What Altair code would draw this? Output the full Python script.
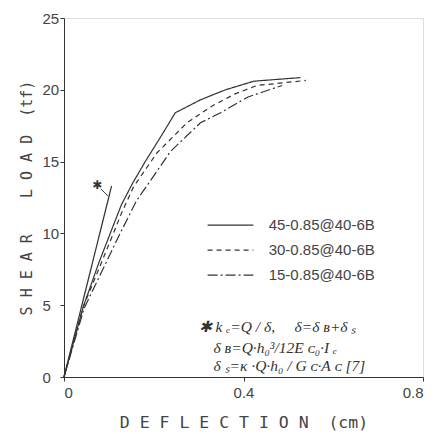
import altair as alt
import pandas as pd

# ---- data ----
series_names = ["45-0.85@40-6B", "30-0.85@40-6B", "15-0.85@40-6B"]

x45 = [0, 0.043, 0.077, 0.103, 0.128, 0.153, 0.181, 0.215, 0.248, 0.304, 0.360, 0.423, 0.527]
y45 = [0, 4.9, 7.9, 10.0, 12.0, 13.5, 15.0, 16.7, 18.4, 19.3, 20.0, 20.6, 20.85]

x30 = [0, 0.043, 0.080, 0.110, 0.128, 0.155, 0.207, 0.274, 0.326, 0.380, 0.430, 0.539]
y30 = [0, 4.9, 7.7, 10.0, 11.4, 13.25, 15.6, 17.7, 18.8, 19.7, 20.3, 20.65]

x15 = [0, 0.045, 0.125, 0.162, 0.200, 0.237, 0.304, 0.349, 0.410, 0.486]
y15 = [0, 4.8, 10.0, 12.3, 14.0, 15.7, 17.7, 18.4, 19.5, 20.3]

# elastic stiffness line (ke)
x_ke = [0, 0.106]
y_ke = [0, 13.3]

NB = "\u00a0"
annotation_lines = [
    "✱" + NB + "k" + NB + "ₑ=Q" + NB + "/" + NB + "δ," + NB * 5 + "δ=δ" + NB + "ʙ+δ" + NB + "ₛ",
    "δ" + NB + "ʙ=Q·h₀³/12E" + NB + "ᴄ₀·I" + NB + "ₑ",
    "δ" + NB + "ₛ=κ" + NB + "·Q·h₀" + NB + "/" + NB + "G" + NB + "ᴄ·A" + NB + "ᴄ" + NB + "[7]",
]

x_ticks = [0, 0.4, 0.8]
y_ticks = [0, 5, 10, 15, 20, 25]

x_title = NB.join("DEFLECTION") + NB * 2 + "(cm)"
y_title = NB.join("SHEAR") + NB * 4 + NB.join("LOAD") + NB * 2 + "(tf)"

# ---- build tables ----
rows = []
for name, xs, ys in zip(series_names, [x45, x30, x15], [y45, y30, y15]):
    for i, (xv, yv) in enumerate(zip(xs, ys)):
        rows.append({"series": name, "x": xv, "y": yv, "order": i})
df = pd.DataFrame(rows)

ke_df = pd.DataFrame({"x": x_ke, "y": y_ke, "order": [0, 1]})

ink = "#333333"
txt = "#444444"

xscale = alt.Scale(domain=[0, 0.8], nice=False, zero=True)
yscale = alt.Scale(domain=[0, 25], nice=False, zero=True)
dash = alt.StrokeDash(
    "series:N",
    scale=alt.Scale(domain=series_names, range=[[1, 0], [5, 4], [10, 3, 2, 3]]),
    legend=None,
)

x_enc = alt.X(
    "x:Q", scale=xscale,
    axis=alt.Axis(
        values=x_ticks, format="~g", grid=False, tickSize=4,
        labelFont="Liberation Sans", labelFontSize=15, labelColor=txt, labelPadding=4,
        title=x_title, titleFont="DejaVu Sans Mono",
        titleFontSize=16.5, titleFontWeight="normal", titleColor=txt, titlePadding=14,
        domainColor=ink, tickColor=ink,
    ),
)
y_enc = alt.Y(
    "y:Q", scale=yscale,
    axis=alt.Axis(
        values=y_ticks, format="d", grid=False, tickSize=4,
        labelFont="Liberation Sans", labelFontSize=15, labelColor=txt,
        labelAlign="left", labelPadding=18,
        title=y_title, titleFont="DejaVu Sans Mono",
        titleFontSize=15, titleFontWeight="normal", titleColor=txt, titlePadding=8,
        domainColor=ink, tickColor=ink,
    ),
)

curves = alt.Chart(df).mark_line(color=ink, strokeWidth=1.2).encode(
    x=x_enc, y=y_enc, strokeDash=dash, detail="series:N", order="order:Q"
)

ke_line = alt.Chart(ke_df).mark_line(color=ink, strokeWidth=1.2).encode(
    x=alt.X("x:Q", scale=xscale), y=alt.Y("y:Q", scale=yscale), order="order:Q"
)

# asterisk label with its leader
star_df = pd.DataFrame({"x": [0.074], "y": [13.4], "t": ["✱"]})
star = alt.Chart(star_df).mark_text(fontSize=12, color=ink, font="DejaVu Sans").encode(
    x=alt.X("x:Q", scale=xscale), y=alt.Y("y:Q", scale=yscale), text="t:N"
)
leader_df = pd.DataFrame({"x": [0.082, 0.098], "y": [13.1, 12.6], "order": [0, 1]})
leader = alt.Chart(leader_df).mark_line(color=ink, strokeWidth=1).encode(
    x=alt.X("x:Q", scale=xscale), y=alt.Y("y:Q", scale=yscale), order="order:Q"
)

# legend (drawn inside the plot)
leg_y = [10.58, 8.84, 7.1]
leg_rows = []
for name, yy in zip(series_names, leg_y):
    leg_rows.append({"series": name, "x": 0.32, "y": yy, "order": 0})
    leg_rows.append({"series": name, "x": 0.422, "y": yy, "order": 1})
leg_df = pd.DataFrame(leg_rows)
leg_lines = alt.Chart(leg_df).mark_line(color=ink, strokeWidth=1.2).encode(
    x=alt.X("x:Q", scale=xscale), y=alt.Y("y:Q", scale=yscale),
    strokeDash=dash, detail="series:N", order="order:Q"
)
leg_txt_df = pd.DataFrame({"series": series_names, "x": [0.456] * 3, "y": leg_y})
leg_text = alt.Chart(leg_txt_df).mark_text(
    align="left", baseline="middle", font="Liberation Sans", fontSize=15, color=txt
).encode(x=alt.X("x:Q", scale=xscale), y=alt.Y("y:Q", scale=yscale), text="series:N")

# formula annotation
ann_df = pd.DataFrame({
    "t": annotation_lines,
    "x": [0.300, 0.333, 0.333],
    "y": [3.45, 2.02, 0.80],
})
ann = alt.Chart(ann_df).mark_text(
    align="left", baseline="middle", font="Liberation Serif", fontStyle="italic",
    fontSize=15.5, color=ink
).encode(x=alt.X("x:Q", scale=xscale), y=alt.Y("y:Q", scale=yscale), text="t:N")

chart = alt.layer(curves, ke_line, leader, star, leg_lines, leg_text, ann).properties(
    width=359, height=359,
    padding={"left": 64, "top": 18, "right": 20, "bottom": 57},
    autosize=alt.AutoSizeParams(type="none"),
).configure_view(stroke=ink, strokeWidth=1).configure(background="white")

chart.save("out.html", embed_options={"renderer": "svg", "actions": False})
